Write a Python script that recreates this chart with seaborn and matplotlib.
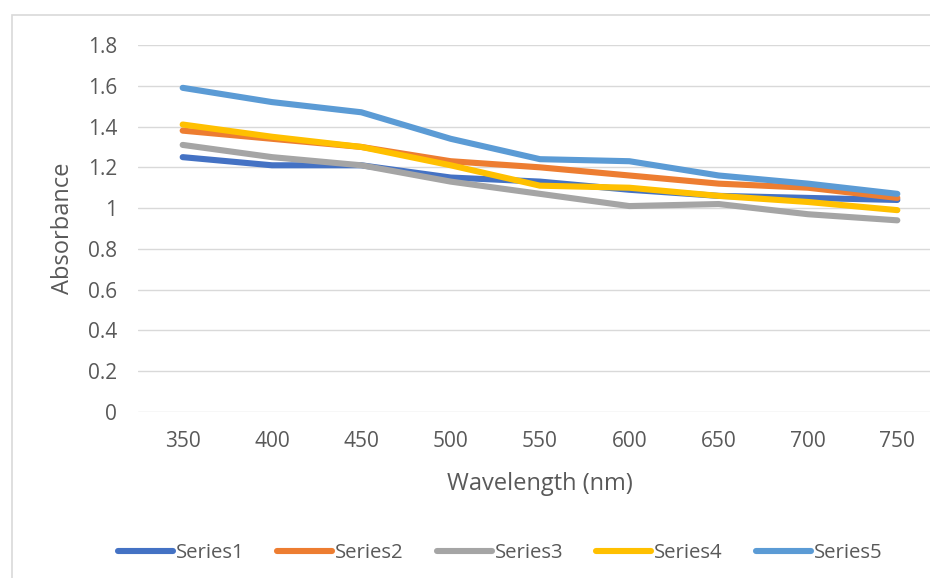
import pandas as pd
import seaborn as sns
import matplotlib.pyplot as plt
from matplotlib.patches import Rectangle

# Data
wavelength = [350, 400, 450, 500, 550, 600, 650, 700, 750]
series1 = [1.25, 1.21, 1.21, 1.15, 1.13, 1.09, 1.06, 1.05, 1.04]
series2 = [1.38, 1.34, 1.30, 1.23, 1.20, 1.16, 1.12, 1.10, 1.05]
series3 = [1.31, 1.25, 1.21, 1.13, 1.07, 1.01, 1.02, 0.97, 0.94]
series4 = [1.41, 1.35, 1.30, 1.21, 1.11, 1.10, 1.06, 1.03, 0.99]
series5 = [1.59, 1.52, 1.47, 1.34, 1.24, 1.23, 1.16, 1.12, 1.07]
series_names = ["Series1", "Series2", "Series3", "Series4", "Series5"]
colors = ["#4472C4", "#ED7D31", "#A5A5A5", "#FFC000", "#5B9BD5"]

# Long format for seaborn
df = pd.DataFrame({"Wavelength": wavelength, "Series1": series1, "Series2": series2,
                   "Series3": series3, "Series4": series4, "Series5": series5})
long_df = df.melt(id_vars="Wavelength", var_name="Series", value_name="Absorbance")

sns.set_theme(style="white")
plt.rcParams["font.family"] = ["Open Sans", "DejaVu Sans"]
text_color = "#595959"

fig = plt.figure(figsize=(9.3, 5.78), dpi=100)
ax = fig.add_axes([138 / 930, 1 - 412 / 578, 804 / 930, 367 / 578])

# chart frame like Excel
fig.patches.append(Rectangle((12 / 930, -0.1), 1.2, 1 - 15 / 578 + 0.1, transform=fig.transFigure,
                             fill=False, edgecolor="#D9D9D9", linewidth=1.2, zorder=0))

sns.lineplot(data=long_df, x="Wavelength", y="Absorbance", hue="Series",
             hue_order=series_names, palette=colors, linewidth=4.4, sort=False,
             legend=True, ax=ax)
for line in ax.lines:
    line.set_solid_capstyle("round")
    line.set_solid_joinstyle("round")

ax.set_xlim(325, 775)
ax.set_ylim(0, 1.8)
ax.set_xticks(wavelength)
ax.set_yticks([0, 0.2, 0.4, 0.6, 0.8, 1, 1.2, 1.4, 1.6, 1.8])
ax.set_yticklabels(["0", "0.2", "0.4", "0.6", "0.8", "1", "1.2", "1.4", "1.6", "1.8"])
ax.grid(axis="y", color="#D9D9D9", linewidth=1.0)
ax.set_axisbelow(True)
for s in ax.spines.values():
    s.set_visible(False)
ax.tick_params(axis="y", length=0, pad=15, labelsize=15, labelcolor=text_color)
ax.tick_params(axis="x", length=0, pad=14, labelsize=15, labelcolor=text_color)
ax.set_xlabel("Wavelength (nm)", fontsize=17, color=text_color, labelpad=14)
ax.set_ylabel("Absorbance", fontsize=17, color=text_color, labelpad=9)

handles, labels = ax.get_legend_handles_labels()
ax.get_legend().remove()
leg = fig.legend(handles, labels, loc="center", bbox_to_anchor=(500 / 930, 1 - 553 / 578),
                 ncol=5, frameon=False, fontsize=14.7, handlelength=2.7,
                 handletextpad=0.15, columnspacing=1.6)
for t in leg.get_texts():
    t.set_color(text_color)
for h in leg.get_lines():
    h.set_linewidth(4.4)
    h.set_solid_capstyle("round")

fig.savefig("out.png", dpi=100)
